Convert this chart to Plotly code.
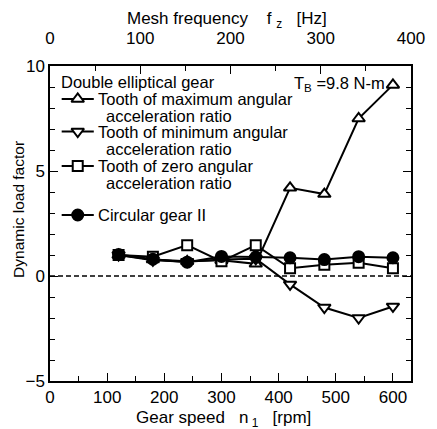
import plotly.graph_objects as go

speed = [120, 180, 240, 300, 360, 420, 480, 540, 600]
max_ratio = [1.0, 0.78, 0.7, 0.75, 0.58, 4.2, 3.9, 7.5, 9.1]
min_ratio = [1.0, 0.75, 0.68, 0.78, 0.82, -0.4, -1.5, -2.0, -1.45]
zero_ratio = [1.0, 0.92, 1.47, 0.7, 1.47, 0.37, 0.53, 0.63, 0.37]
circular = [1.02, 0.8, 0.66, 0.93, 0.9, 0.87, 0.78, 0.92, 0.87]

series_names = ["Tooth of maximum angular", "Tooth of minimum angular",
                "Tooth of zero angular", "Circular gear II"]
second_line = "acceleration ratio"

FONT = "Liberation Sans, Arial, sans-serif"
W, H = 437, 429
ML, MR, MT, MB = 50, 16, 66, 48
PW, PH = W - ML - MR, H - MT - MB

def px_x(x):
    return (x - ML) / PW

def px_y(y):
    return (H - MB - y) / PH

fig = go.Figure()

styles = [
    dict(symbol="triangle-up", size=11, fill="white"),
    dict(symbol="triangle-down", size=11, fill="white"),
    dict(symbol="square", size=10, fill="white"),
    dict(symbol="circle", size=11, fill="black"),
]
data = [max_ratio, min_ratio, zero_ratio, circular]

for vals, st in zip(data, styles):
    fig.add_trace(go.Scatter(
        x=speed, y=vals, mode="lines+markers",
        line=dict(color="black", width=2),
        marker=dict(symbol=st["symbol"], size=st["size"], color=st["fill"],
                    line=dict(color="black", width=2)),
        showlegend=False, cliponaxis=False,
    ))

# top axis helper trace
fig.add_trace(go.Scatter(x=[], y=[], xaxis="x2", yaxis="y", showlegend=False))

# manual legend keys, positioned in page pixels on an overlay axis pair
key_rows_px = [99, 131.5, 166, 215]
for st, ypx in zip(styles, key_rows_px):
    fig.add_trace(go.Scatter(
        x=[px_x(62), px_x(95)], y=[px_y(ypx)] * 2, xaxis="x3", yaxis="y3",
        mode="lines", line=dict(color="black", width=2), showlegend=False, hoverinfo="skip"))
    fig.add_trace(go.Scatter(
        x=[px_x(78.5)], y=[px_y(ypx)], xaxis="x3", yaxis="y3", mode="markers",
        marker=dict(symbol=st["symbol"], size=st["size"], color=st["fill"],
                    line=dict(color="black", width=2)),
        showlegend=False, hoverinfo="skip"))

ann = []
def add_text(xpx, ypx, text, xanchor="left", size=16.5, **kw):
    ann.append(dict(x=px_x(xpx), y=px_y(ypx), xref="paper", yref="paper", text=text, showarrow=False,
                    xanchor=xanchor, yanchor="middle", font=dict(family=FONT, size=size, color="black"), **kw))

add_text(59, 82, "Double elliptical gear")
add_text(97, 99, series_names[0])
add_text(106, 116, second_line)
add_text(97, 131.5, series_names[1])
add_text(106, 149, second_line)
add_text(97, 166, series_names[2])
add_text(106, 183, second_line)
add_text(97, 215, series_names[3])
add_text(396, 84, "T<sub>B</sub> =9.8 N-m", xanchor="right")
add_text(17, 209, "Dynamic load factor", xanchor="center", size=15.5, textangle=-90)
add_text(228, 419, "Gear speed   n<sub> 1</sub>   [rpm]", xanchor="center", size=17)
add_text(232, 20, "Mesh frequency    f <sub>z</sub>   [Hz]", xanchor="center", size=17)

tick_common = dict(ticks="inside", ticklen=8, tickwidth=1.2, tickcolor="black",
                   showline=True, linecolor="black", linewidth=1.5, showgrid=False, zeroline=False,
                   tickfont=dict(size=17))

fig.update_layout(
    width=W, height=H, margin=dict(l=ML, r=MR, t=MT, b=MB),
    paper_bgcolor="white", plot_bgcolor="white",
    font=dict(family=FONT, size=17, color="black"),
    annotations=ann,
    xaxis=dict(range=[0, 631.6], tickvals=[0, 100, 200, 300, 400, 500, 600],
               minor=dict(dtick=50, ticks="inside", ticklen=5, tickcolor="black", tickwidth=1.2),
               **tick_common),
    xaxis2=dict(range=[0, 400], overlaying="x", side="top", anchor="y",
                tickvals=[0, 100, 200, 300, 400],
                minor=dict(dtick=50, ticks="inside", ticklen=5, tickcolor="black", tickwidth=1.2),
                ticklabelstandoff=13, **tick_common),
    yaxis=dict(range=[-5, 10], tickvals=[-5, 0, 5, 10], mirror="ticks",
               minor=dict(dtick=1, ticks="inside", ticklen=5, tickcolor="black", tickwidth=1.2),
               **tick_common),
    xaxis3=dict(range=[0, 1], overlaying="x", visible=False, anchor="y3"),
    yaxis3=dict(range=[0, 1], overlaying="y", visible=False, anchor="x3"),
    shapes=[dict(type="line", xref="x domain", x0=0, x1=1, yref="y", y0=0, y1=0,
                 line=dict(color="black", width=1.5, dash="5px,3px"))],
)

fig.write_html("out.html")
